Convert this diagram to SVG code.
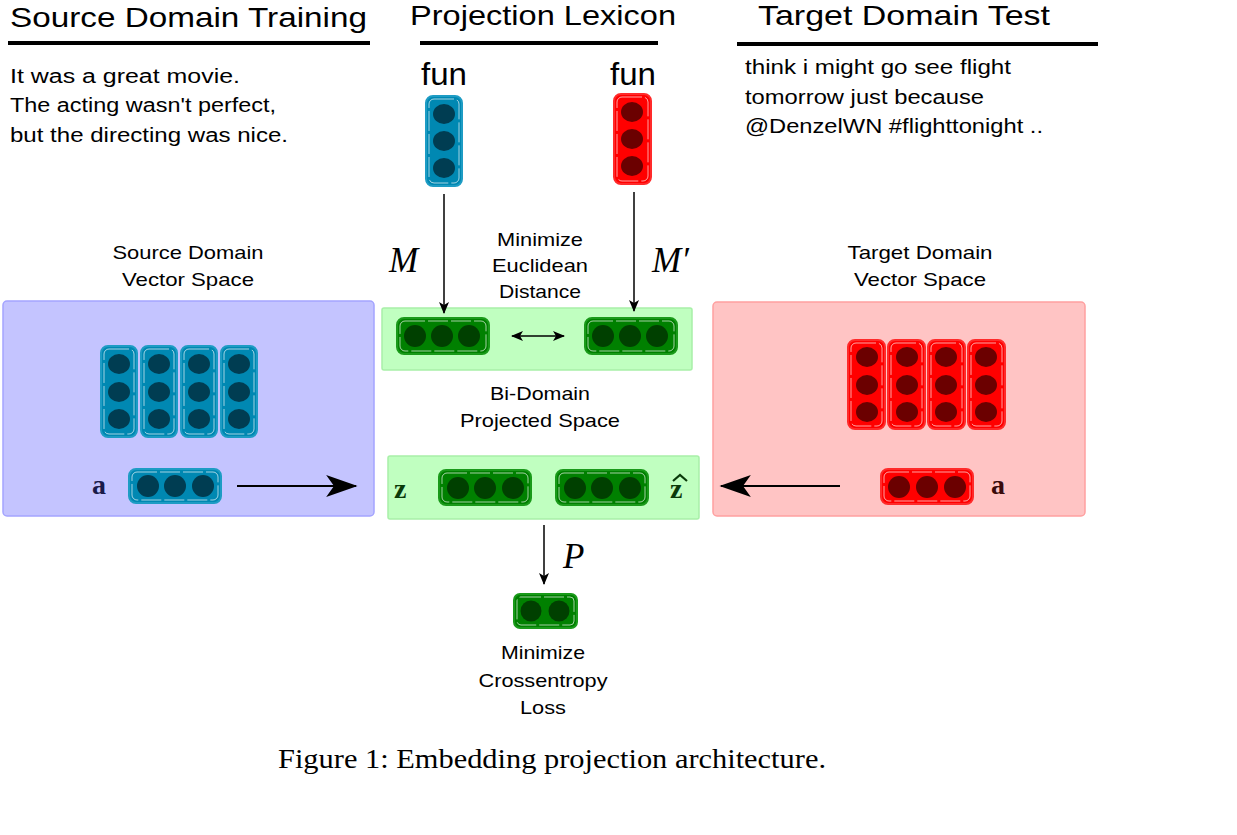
<svg xmlns="http://www.w3.org/2000/svg" width="1237" height="835" viewBox="0 0 1237 835">
<defs>
<style>
.t{font-family:"Liberation Sans",Arial,sans-serif;fill:#000}
.title{font-size:28px}
.body{font-size:20px}
.lbl{font-size:19px;text-anchor:middle}
.fun{font-size:31px;text-anchor:middle}
.math{font-family:"Liberation Serif","Times New Roman",serif;font-style:italic;font-size:35px;font-weight:normal}
.bold{font-family:"Liberation Serif","Times New Roman",serif;font-weight:bold;font-size:28px}
.cap{font-family:"Liberation Serif","Times New Roman",serif;font-size:28px}
.ul{stroke:#000;stroke-width:4}
.bv{fill:#0088b2;stroke:#1e9cc4;stroke-width:2}
.bc{fill:#003d52}
.rv{fill:#ff0000;stroke:#ff2a2a;stroke-width:2}
.rc{fill:#6b0000}
.gv{fill:#008000;stroke:#1a9a1a;stroke-width:2}
.gc{fill:#004000}
.inner{fill:none;stroke:#fff;stroke-width:0.8;stroke-dasharray:20 3;opacity:0.8}
.gbox{fill:#c0ffc0;stroke:#a8f0a8;stroke-width:1.5}
.arr{stroke:#000;stroke-width:1.5;fill:none}
.arr2{stroke:#000;stroke-width:2;fill:none}
</style>
<marker id="ah" viewBox="0 0 12 10" refX="11" refY="5" markerWidth="12" markerHeight="10" markerUnits="userSpaceOnUse" orient="auto-start-reverse">
<path d="M0,0 L12,5 L0,10 L3,5 Z" fill="#000"/>
</marker>
<marker id="ahb" viewBox="0 0 20 14" refX="19" refY="7" markerWidth="34" markerHeight="22" markerUnits="userSpaceOnUse" orient="auto-start-reverse">
<path d="M0,0 L20,7 L0,14 L5,7 Z" fill="#000"/>
</marker>
</defs>
<rect width="1237" height="835" fill="#fff"/>

<g id="headers">
<text class="t title" x="10" y="27" textLength="357" lengthAdjust="spacingAndGlyphs">Source Domain Training</text>
<line class="ul" x1="8" y1="43" x2="370" y2="43"/>
<text class="t title" x="410" y="25" textLength="266" lengthAdjust="spacingAndGlyphs">Projection Lexicon</text>
<line class="ul" x1="420" y1="43" x2="658" y2="43"/>
<text class="t title" x="758" y="25" textLength="292" lengthAdjust="spacingAndGlyphs">Target Domain Test</text>
<line class="ul" x1="737" y1="44" x2="1098" y2="44"/>
</g>

<g id="source-text">
<text class="t body" x="10" y="83" textLength="230" lengthAdjust="spacingAndGlyphs">It was a great movie.</text>
<text class="t body" x="10" y="112" textLength="266" lengthAdjust="spacingAndGlyphs">The acting wasn't perfect,</text>
<text class="t body" x="10" y="142" textLength="278" lengthAdjust="spacingAndGlyphs">but the directing was nice.</text>
</g>

<g id="target-text">
<text class="t body" x="745" y="74" textLength="266" lengthAdjust="spacingAndGlyphs">think i might go see flight</text>
<text class="t body" x="745" y="104" textLength="239" lengthAdjust="spacingAndGlyphs">tomorrow just because</text>
<text class="t body" x="745" y="133" textLength="298" lengthAdjust="spacingAndGlyphs">@DenzelWN #flighttonight ..</text>
</g>

<g id="fun-source">
<text class="t fun" x="444" y="85" textLength="46" lengthAdjust="spacingAndGlyphs">fun</text>
<rect class="bv" x="426" y="96" width="36" height="90" rx="7"/>
<rect class="inner" x="429" y="99" width="30" height="84" rx="5"/>
<ellipse class="bc" cx="444" cy="114" rx="11" ry="10"/>
<ellipse class="bc" cx="444" cy="141" rx="11" ry="10"/>
<ellipse class="bc" cx="444" cy="168" rx="11" ry="10"/>
</g>

<g id="fun-target">
<text class="t fun" x="633" y="85" textLength="46" lengthAdjust="spacingAndGlyphs">fun</text>
<rect class="rv" x="614" y="94" width="37" height="90" rx="7"/>
<rect class="inner" x="617" y="97" width="31" height="84" rx="5"/>
<ellipse class="rc" cx="632" cy="112" rx="11" ry="10"/>
<ellipse class="rc" cx="632" cy="139" rx="11" ry="10"/>
<ellipse class="rc" cx="632" cy="166" rx="11" ry="10"/>
</g>

<g id="source-space">
<text class="t lbl" x="188" y="259" textLength="151" lengthAdjust="spacingAndGlyphs">Source Domain</text>
<text class="t lbl" x="188" y="286" textLength="132" lengthAdjust="spacingAndGlyphs">Vector Space</text>
<rect x="3" y="301" width="371" height="215" rx="4" fill="#c4c4ff" stroke="#a4a4ff" stroke-width="1.5"/>
<g>
<rect class="bv" x="101" y="346" width="36" height="91" rx="7"/>
<rect class="bv" x="141" y="346" width="36" height="91" rx="7"/>
<rect class="bv" x="181" y="346" width="36" height="91" rx="7"/>
<rect class="bv" x="221" y="346" width="36" height="91" rx="7"/>
<rect class="inner" x="104" y="349" width="30" height="85" rx="5"/>
<rect class="inner" x="144" y="349" width="30" height="85" rx="5"/>
<rect class="inner" x="184" y="349" width="30" height="85" rx="5"/>
<rect class="inner" x="224" y="349" width="30" height="85" rx="5"/>
<ellipse class="bc" cx="119" cy="364" rx="11" ry="10"/><ellipse class="bc" cx="119" cy="392" rx="11" ry="10"/><ellipse class="bc" cx="119" cy="419" rx="11" ry="10"/>
<ellipse class="bc" cx="159" cy="364" rx="11" ry="10"/><ellipse class="bc" cx="159" cy="392" rx="11" ry="10"/><ellipse class="bc" cx="159" cy="419" rx="11" ry="10"/>
<ellipse class="bc" cx="199" cy="364" rx="11" ry="10"/><ellipse class="bc" cx="199" cy="392" rx="11" ry="10"/><ellipse class="bc" cx="199" cy="419" rx="11" ry="10"/>
<ellipse class="bc" cx="239" cy="364" rx="11" ry="10"/><ellipse class="bc" cx="239" cy="392" rx="11" ry="10"/><ellipse class="bc" cx="239" cy="419" rx="11" ry="10"/>
</g>
<text class="bold" x="92" y="494" fill="#1a1a4a">a</text>
<rect class="bv" x="129" y="469" width="92" height="34" rx="7"/>
<rect class="inner" x="132" y="472" width="86" height="28" rx="5"/>
<ellipse class="bc" cx="148" cy="486" rx="11" ry="11"/>
<ellipse class="bc" cx="175" cy="486" rx="11" ry="11"/>
<ellipse class="bc" cx="203" cy="486" rx="11" ry="11"/>
</g>

<g id="target-space">
<text class="t lbl" x="920" y="259" textLength="145" lengthAdjust="spacingAndGlyphs">Target Domain</text>
<text class="t lbl" x="920" y="286" textLength="132" lengthAdjust="spacingAndGlyphs">Vector Space</text>
<rect x="713" y="302" width="372" height="214" rx="4" fill="#ffc4c4" stroke="#ffa0a0" stroke-width="1.5"/>
<rect class="rv" x="848" y="340" width="37" height="89" rx="7"/>
<rect class="rv" x="888" y="340" width="37" height="89" rx="7"/>
<rect class="rv" x="928" y="340" width="37" height="89" rx="7"/>
<rect class="rv" x="968" y="340" width="37" height="89" rx="7"/>
<rect class="inner" x="851" y="343" width="31" height="83" rx="5"/>
<rect class="inner" x="891" y="343" width="31" height="83" rx="5"/>
<rect class="inner" x="931" y="343" width="31" height="83" rx="5"/>
<rect class="inner" x="971" y="343" width="31" height="83" rx="5"/>
<ellipse class="rc" cx="867" cy="357" rx="11" ry="10"/><ellipse class="rc" cx="867" cy="385" rx="11" ry="10"/><ellipse class="rc" cx="867" cy="412" rx="11" ry="10"/>
<ellipse class="rc" cx="907" cy="357" rx="11" ry="10"/><ellipse class="rc" cx="907" cy="385" rx="11" ry="10"/><ellipse class="rc" cx="907" cy="412" rx="11" ry="10"/>
<ellipse class="rc" cx="946" cy="357" rx="11" ry="10"/><ellipse class="rc" cx="946" cy="385" rx="11" ry="10"/><ellipse class="rc" cx="946" cy="412" rx="11" ry="10"/>
<ellipse class="rc" cx="986" cy="357" rx="11" ry="10"/><ellipse class="rc" cx="986" cy="385" rx="11" ry="10"/><ellipse class="rc" cx="986" cy="412" rx="11" ry="10"/>
<rect class="rv" x="881" y="469" width="92" height="35" rx="7"/>
<rect class="inner" x="884" y="472" width="86" height="29" rx="5"/>
<ellipse class="rc" cx="899" cy="487" rx="11" ry="11"/>
<ellipse class="rc" cx="927" cy="487" rx="11" ry="11"/>
<ellipse class="rc" cx="955" cy="487" rx="11" ry="11"/>
<text class="bold" x="991" y="494" fill="#3a0a0a">a</text>
</g>

<g id="euclid-box">
<text class="t lbl" x="540" y="246" textLength="86" lengthAdjust="spacingAndGlyphs">Minimize</text>
<text class="t lbl" x="540" y="272" textLength="96" lengthAdjust="spacingAndGlyphs">Euclidean</text>
<text class="t lbl" x="540" y="298" textLength="82" lengthAdjust="spacingAndGlyphs">Distance</text>
<rect class="gbox" x="382" y="308" width="310" height="62" rx="2"/>
<rect class="gv" x="397" y="318" width="92" height="36" rx="7"/>
<rect class="inner" x="400" y="321" width="86" height="30" rx="5"/>
<circle class="gc" cx="415" cy="336" r="11"/><circle class="gc" cx="442" cy="336" r="11"/><circle class="gc" cx="469" cy="336" r="11"/>
<rect class="gv" x="585" y="318" width="92" height="36" rx="7"/>
<rect class="inner" x="588" y="321" width="86" height="30" rx="5"/>
<circle class="gc" cx="603" cy="336" r="11"/><circle class="gc" cx="630" cy="336" r="11"/><circle class="gc" cx="657" cy="336" r="11"/>
</g>

<g id="projected-box">
<text class="t lbl" x="540" y="400" textLength="100" lengthAdjust="spacingAndGlyphs">Bi-Domain</text>
<text class="t lbl" x="540" y="427" textLength="160" lengthAdjust="spacingAndGlyphs">Projected Space</text>
<rect class="gbox" x="388" y="456" width="311" height="63" rx="2"/>
<text class="bold" x="394" y="498" fill="#0a3a0a">z</text>
<rect class="gv" x="439" y="470" width="92" height="35" rx="7"/>
<rect class="inner" x="442" y="473" width="86" height="29" rx="5"/>
<circle class="gc" cx="458" cy="488" r="11"/><circle class="gc" cx="485" cy="488" r="11"/><circle class="gc" cx="513" cy="488" r="11"/>
<rect class="gv" x="556" y="470" width="92" height="35" rx="7"/>
<rect class="inner" x="559" y="473" width="86" height="29" rx="5"/>
<circle class="gc" cx="575" cy="488" r="11"/><circle class="gc" cx="602" cy="488" r="11"/><circle class="gc" cx="630" cy="488" r="11"/>
<text class="bold" x="670" y="498" fill="#0a3a0a">z</text>
<path d="M673,481 L680,475 L687,481" fill="none" stroke="#0a3a0a" stroke-width="2.2"/>
</g>

<g id="output">
<rect class="gv" x="514" y="594" width="63" height="34" rx="6"/>
<rect class="inner" x="517" y="597" width="57" height="28" rx="4"/>
<circle class="gc" cx="531" cy="611" r="10.5"/><circle class="gc" cx="559" cy="611" r="10.5"/>
<text class="t lbl" x="543" y="659" textLength="84" lengthAdjust="spacingAndGlyphs">Minimize</text>
<text class="t lbl" x="543" y="687" textLength="129" lengthAdjust="spacingAndGlyphs">Crossentropy</text>
<text class="t lbl" x="543" y="714" textLength="46" lengthAdjust="spacingAndGlyphs">Loss</text>
</g>

<g id="connectors">
<line class="arr" x1="444" y1="194" x2="444" y2="313" marker-end="url(#ah)"/>
<line class="arr" x1="634" y1="192" x2="634" y2="311" marker-end="url(#ah)"/>
<line class="arr" x1="512" y1="336" x2="564" y2="336" marker-start="url(#ah)" marker-end="url(#ah)"/>
<line class="arr2" x1="237" y1="486" x2="356" y2="486" marker-end="url(#ahb)"/>
<line class="arr2" x1="840" y1="486" x2="721" y2="486" marker-end="url(#ahb)"/>
<line class="arr" x1="544" y1="525" x2="544" y2="584" marker-end="url(#ah)"/>
<text class="math" x="389" y="272">M</text>
<text class="math" x="652" y="272">M′</text>
<text class="math" x="563" y="568">P</text>
</g>

<text class="cap" x="278" y="768" textLength="548" lengthAdjust="spacingAndGlyphs">Figure 1: Embedding projection architecture.</text>
</svg>
